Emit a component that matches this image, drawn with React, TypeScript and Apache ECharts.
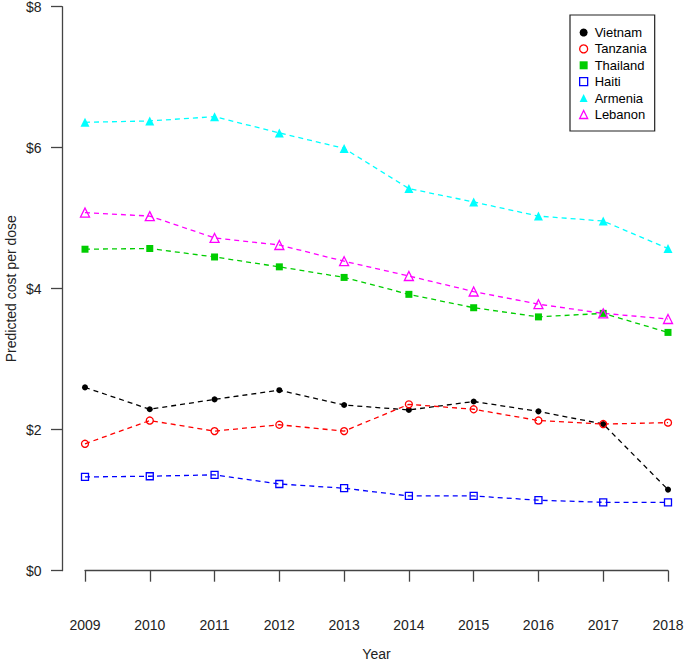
import React, { useEffect, useRef } from "react";
import * as echarts from "echarts";

const years = [2009, 2010, 2011, 2012, 2013, 2014, 2015, 2016, 2017, 2018];
const yTicks = [0, 2, 4, 6, 8];
const vietnam = [2.6, 2.29, 2.43, 2.56, 2.35, 2.28, 2.4, 2.26, 2.08, 1.15];
const tanzania = [1.8, 2.13, 1.98, 2.07, 1.98, 2.36, 2.29, 2.13, 2.08, 2.1];
const thailand = [4.56, 4.57, 4.45, 4.31, 4.16, 3.92, 3.73, 3.6, 3.65, 3.38];
const haiti = [1.33, 1.34, 1.36, 1.23, 1.17, 1.06, 1.06, 1.0, 0.97, 0.97];
const armenia = [6.36, 6.38, 6.44, 6.21, 5.99, 5.42, 5.23, 5.03, 4.96, 4.57];
const lebanon = [5.08, 5.03, 4.72, 4.62, 4.39, 4.18, 3.96, 3.78, 3.65, 3.57];

const FONT = "'Liberation Sans', Arial, Helvetica, sans-serif";

type Spec = {
  name: string;
  values: number[];
  color: string;
  symbol: string;
  size: number;
  hollow: boolean;
};

const specs: Spec[] = [
  { name: "Vietnam", values: vietnam, color: "#000000", symbol: "circle", size: 6, hollow: false },
  { name: "Tanzania", values: tanzania, color: "#FF0000", symbol: "circle", size: 7, hollow: true },
  { name: "Thailand", values: thailand, color: "#00CD00", symbol: "rect", size: 7, hollow: false },
  { name: "Haiti", values: haiti, color: "#0000FF", symbol: "rect", size: 7, hollow: true },
  { name: "Armenia", values: armenia, color: "#00FFFF", symbol: "triangle", size: 9, hollow: false },
  { name: "Lebanon", values: lebanon, color: "#FF00FF", symbol: "triangle", size: 9, hollow: true },
];

export default function App() {
  const ref = useRef<HTMLDivElement>(null);
  useEffect(() => {
    if (!ref.current) return;
    const chart = echarts.init(ref.current, undefined, { renderer: "svg" });
    const itemStyleOf = (s: Spec) =>
      s.hollow
        ? { color: "rgba(0,0,0,0)", borderColor: s.color, borderWidth: 1.3 }
        : { color: s.color, borderWidth: 0 };
    chart.setOption({
      animation: false,
      backgroundColor: "#ffffff",
      grid: {
        left: 85,
        right: 17,
        top: 6.7,
        bottom: 92.3,
        containLabel: false,
        outerBoundsMode: "none",
      },
      xAxis: {
        type: "value",
        min: 2009,
        max: 2018,
        interval: 1,
        offset: 22,
        name: "Year",
        nameLocation: "middle",
        nameGap: 54,
        nameMoveOverlap: false,
        nameTextStyle: { fontFamily: FONT, fontSize: 14, color: "#222" },
        axisLine: { show: true, lineStyle: { color: "#444", width: 1.3 } },
        axisTick: { show: true, length: 11, lineStyle: { color: "#444", width: 1.3 } },
        axisLabel: {
          margin: 25,
          fontFamily: FONT,
          fontSize: 14,
          color: "#222",
          formatter: (v: number) => String(v),
        },
        splitLine: { show: false },
      },
      yAxis: {
        type: "value",
        min: yTicks[0],
        max: yTicks[yTicks.length - 1],
        interval: 2,
        offset: 23,
        name: "Predicted cost per dose",
        nameLocation: "middle",
        nameGap: 44,
        nameMoveOverlap: false,
        nameTextStyle: { fontFamily: FONT, fontSize: 14, color: "#222" },
        axisLine: { show: true, lineStyle: { color: "#444", width: 1.3 } },
        axisTick: { show: true, length: 11, lineStyle: { color: "#444", width: 1.3 } },
        axisLabel: {
          margin: 20.5,
          fontFamily: FONT,
          fontSize: 14,
          color: "#222",
          formatter: (v: number) => "$" + v,
        },
        splitLine: { show: false },
      },
      legend: {
        orient: "vertical",
        left: 570,
        top: 15,
        padding: [11, 8, 10, 9],
        itemGap: 3.4,
        itemWidth: 8,
        itemHeight: 8,
        borderColor: "#222",
        borderWidth: 1.2,
        backgroundColor: "#fff",
        textStyle: { fontFamily: FONT, fontSize: 13, color: "#000", padding: [0, 0, 0, 2] },
        data: specs.map((s) => ({
          name: s.name,
          icon: s.symbol,
          itemStyle: itemStyleOf(s),
        })),
      },
      series: specs.map((s) => ({
        name: s.name,
        type: "line",
        clip: false,
        data: years.map((y, i) => [y, s.values[i]]),
        symbol: s.symbol,
        symbolSize: s.size,
        showSymbol: true,
        lineStyle: { color: s.color, width: 1.3, type: [5, 4] },
        itemStyle: itemStyleOf(s),
        emphasis: { disabled: true },
      })),
    });
    return () => chart.dispose();
  }, []);
  return (
    <div
      ref={ref}
      style={{ position: "absolute", left: 0, top: 0, width: 685, height: 663, background: "#fff" }}
    />
  );
}
